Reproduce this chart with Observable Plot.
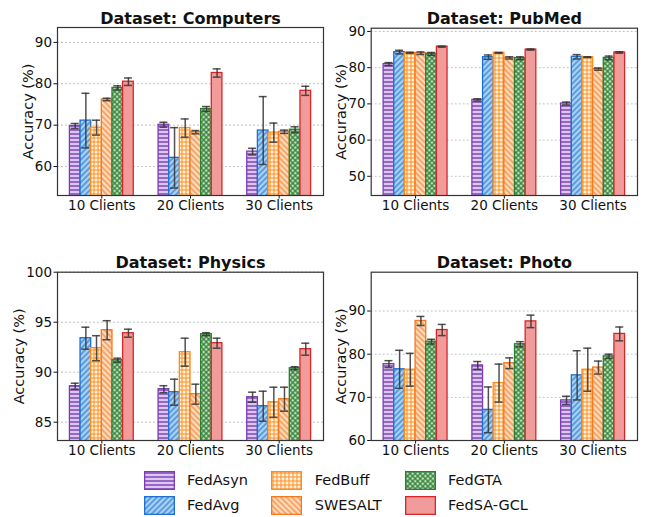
<!DOCTYPE html>
<html>
<head>
<meta charset="utf-8">
<script src="https://cdn.jsdelivr.net/npm/d3@7"></script>
<script src="https://cdn.jsdelivr.net/npm/@observablehq/plot@0.6"></script>
<style>
  body { margin: 0; background: #fff; font-family: "DejaVu Sans", sans-serif; }
  #fig { position: relative; width: 654px; height: 517px; overflow: hidden; }
  #fig > svg { position: absolute; }
  .swatch { position: absolute; }
  .legend-label { position: absolute; font-size: 14.5px; line-height: 18px; color: #111; white-space: nowrap; }
</style>
</head>
<body>
<svg id="defs" width="0" height="0" style="position:absolute"><defs></defs></svg>
<div id="fig"></div>
<script>
// Methods, in legend order
const methods = ["FedAsyn", "FedAvg", "FedBuff", "SWESALT", "FedGTA", "FedSA-GCL"];
const clientGroups = ["10 Clients", "20 Clients", "30 Clients"];

// Mean accuracy (%) — one row per method, one column per client setting
const computersMean = [
  [69.8, 70.1, 63.6],
  [71.1, 62.1, 68.7],
  [69.4, 69.3, 68.2],
  [76.2, 68.3, 68.4],
  [79.0, 73.9, 68.9],
  [80.5, 82.6, 78.3]
];
const computersStd = [
  [0.6, 0.6, 0.8],
  [6.6, 7.3, 8.2],
  [1.8, 2.2, 2.3],
  [0.3, 0.4, 0.4],
  [0.5, 0.6, 0.7],
  [0.9, 1.0, 1.1]
];
const pubmedMean = [
  [81.0, 71.1, 70.1],
  [84.3, 82.9, 83.0],
  [84.1, 84.1, 82.9],
  [84.0, 82.7, 79.6],
  [83.8, 82.6, 82.7],
  [85.8, 85.0, 84.2]
];
const pubmedStd = [
  [0.4, 0.3, 0.4],
  [0.5, 0.6, 0.6],
  [0.15, 0.1, 0.1],
  [0.35, 0.3, 0.3],
  [0.4, 0.4, 0.5],
  [0.15, 0.15, 0.2]
];
const physicsMean = [
  [88.6, 88.3, 87.5],
  [93.4, 88.0, 86.6],
  [92.4, 92.0, 87.0],
  [94.2, 87.8, 87.3],
  [91.2, 93.8, 90.4],
  [93.9, 92.9, 92.3]
];
const physicsStd = [
  [0.3, 0.35, 0.5],
  [1.1, 1.3, 1.5],
  [1.25, 1.4, 1.5],
  [0.95, 1.0, 1.2],
  [0.2, 0.15, 0.15],
  [0.4, 0.5, 0.6]
];
const photoMean = [
  [77.7, 77.4, 69.3],
  [76.5, 67.1, 75.1],
  [76.4, 73.3, 76.4],
  [87.7, 77.9, 76.9],
  [82.9, 82.3, 79.5],
  [85.6, 87.6, 84.7]
];
const photoStd = [
  [0.8, 0.9, 0.95],
  [4.4, 5.3, 5.7],
  [3.8, 4.4, 5.0],
  [1.05, 1.25, 1.5],
  [0.55, 0.6, 0.5],
  [1.3, 1.45, 1.6]
];

const computersTicks = [60, 70, 80, 90];
const pubmedTicks = [50, 60, 70, 80, 90];
const physicsTicks = [85, 90, 95, 100];
const photoTicks = [60, 70, 80, 90];

// Styling: face colour, hatch/edge colour, hatch kind per method
const faceColors = ["#dcc8ee", "#a9d3f5", "#fff4e4", "#fddcc0", "#bfe0bf", "#f29b9b"];
const edgeColors = ["#7b3db5", "#1f6fd0", "#ff8c1a", "#f5781e", "#2e7d32", "#d62728"];
const hatchKinds = ["-", "/", "+", "\\", "x", ""];

const barWidth = 0.12;
const capHalf = 0.045;

// Hatch patterns shared by all panels and the legend
const defs = d3.select("#defs defs");
hatchKinds.forEach((kind, i) => {
  const s = kind === "x" ? 3.6 : 4;
  const p = defs.append("pattern")
    .attr("id", `hatch-${i}`)
    .attr("patternUnits", "userSpaceOnUse")
    .attr("width", s).attr("height", s);
  if (kind === "/" || kind === "x") p.attr("patternTransform", "rotate(45)");
  if (kind === "\\") p.attr("patternTransform", "rotate(-45)");
  p.append("rect").attr("width", s).attr("height", s).attr("fill", faceColors[i]);
  const line = (x1, y1, x2, y2, w) => p.append("line")
    .attr("x1", x1).attr("y1", y1).attr("x2", x2).attr("y2", y2)
    .attr("stroke", edgeColors[i]).attr("stroke-width", w);
  if (kind === "-") line(0, s / 2, s, s / 2, 1.4);
  if (kind === "/" || kind === "\\") line(s / 2, 0, s / 2, s, 1.1);
  if (kind === "+") { line(0, s / 2, s, s / 2, 1); line(s / 2, 0, s / 2, s, 1); }
  if (kind === "x") { line(0, s / 2, s, s / 2, 1.2); line(s / 2, 0, s / 2, s, 1.2); }
});

function panel(cfg) {
  const rows = [];
  cfg.mean.forEach((vals, m) => vals.forEach((v, g) => {
    const center = g + (m - (methods.length - 1) / 2) * barWidth;
    rows.push({ m, g, center, mean: v, err: cfg.std[m][g] });
  }));
  const errStyle = { stroke: "#333", strokeWidth: 1.5, strokeOpacity: 0.85 };
  const svg = Plot.plot({
    width: cfg.width,
    height: cfg.height,
    marginLeft: cfg.ml, marginRight: cfg.mr, marginTop: cfg.mt, marginBottom: cfg.mb,
    style: { fontFamily: "DejaVu Sans, sans-serif", fontSize: "13.5px", color: "#111", background: "transparent", overflow: "visible" },
    x: { domain: [-0.5, 2.5] },
    y: { domain: cfg.domain },
    color: { type: "identity" },
    marks: [
      Plot.gridY(cfg.ticks, { stroke: "#b5b5b5", strokeOpacity: 1, strokeDasharray: "2,2", strokeWidth: 0.8 }),
      Plot.rectY(rows, {
        x1: d => d.center - barWidth / 2,
        x2: d => d.center + barWidth / 2,
        y1: 0, y2: "mean",
        fill: d => `url(#hatch-${d.m})`,
        stroke: d => edgeColors[d.m],
        strokeWidth: 1.3,
        clip: true
      }),
      Plot.ruleX(rows, { x: "center", y1: d => d.mean - d.err, y2: d => d.mean + d.err, ...errStyle }),
      Plot.ruleY(rows, { x1: d => d.center - capHalf, x2: d => d.center + capHalf, y: d => d.mean + d.err, ...errStyle }),
      Plot.ruleY(rows, { x1: d => d.center - capHalf, x2: d => d.center + capHalf, y: d => d.mean - d.err, ...errStyle }),
      Plot.axisX({ ticks: [0, 1, 2], tickFormat: i => clientGroups[i], tickSize: 3.5, tickPadding: 1.5, label: null }),
      Plot.axisY({ ticks: cfg.ticks, tickSize: 3.5, tickPadding: 2, label: null }),
      Plot.text(["Accuracy (%)"], { frameAnchor: "left", textAnchor: "middle", lineAnchor: "middle", rotate: -90, dx: -cfg.labelGap, fontSize: 14.5 }),
      Plot.text([cfg.title], { frameAnchor: "top", dy: cfg.titleDy, fontWeight: "bold", fontSize: 16 }),
      Plot.frame({ stroke: "#333", strokeWidth: 1.2 })
    ]
  });
  svg.style.left = cfg.left + "px";
  svg.style.top = cfg.top + "px";
  return svg;
}

const fig = document.getElementById("fig");
const panels = [
  { title: "Dataset: Computers", mean: computersMean, std: computersStd, ticks: computersTicks, domain: [53, 93.6],
    left: 0, top: 0, width: 330, height: 230, ml: 57, mr: 7, mt: 27, mb: 35, labelGap: 29, titleDy: -14.5 },
  { title: "Dataset: PubMed", mean: pubmedMean, std: pubmedStd, ticks: pubmedTicks, domain: [44.7, 90.9],
    left: 325, top: 0, width: 329, height: 230, ml: 45.7, mr: 17, mt: 27.7, mb: 35, labelGap: 30, titleDy: -15.2 },
  { title: "Dataset: Physics", mean: physicsMean, std: physicsStd, ticks: physicsTicks, domain: [83.17, 100],
    left: 0, top: 240, width: 330, height: 225, ml: 57, mr: 7, mt: 31.7, mb: 25, labelGap: 38, titleDy: -15.2 },
  { title: "Dataset: Photo", mean: photoMean, std: photoStd, ticks: photoTicks, domain: [60, 99],
    left: 325, top: 240, width: 329, height: 225, ml: 45.7, mr: 17, mt: 31.7, mb: 25, labelGap: 30, titleDy: -15.2 }
];
panels.forEach(cfg => fig.appendChild(panel(cfg)));

// Legend: three columns, two rows, filled column by column
const swatchX = [144, 271.7, 405];
const swatchY = [471, 496];
methods.forEach((name, i) => {
  const col = Math.floor(i / 2), row = i % 2;
  const sw = d3.select(fig).append("svg")
    .attr("class", "swatch")
    .attr("width", 31).attr("height", 19)
    .style("left", (swatchX[col] - 0.5) + "px")
    .style("top", (swatchY[row] - 0.5) + "px");
  sw.append("rect")
    .attr("x", 0.65).attr("y", 0.65).attr("width", 29.7).attr("height", 17.7)
    .attr("fill", `url(#hatch-${i})`)
    .attr("stroke", edgeColors[i]).attr("stroke-width", 1.3);
  d3.select(fig).append("div")
    .attr("class", "legend-label")
    .style("left", (swatchX[col] + 43) + "px")
    .style("top", swatchY[row] + "px")
    .text(name);
});
</script>
</body>
</html>
